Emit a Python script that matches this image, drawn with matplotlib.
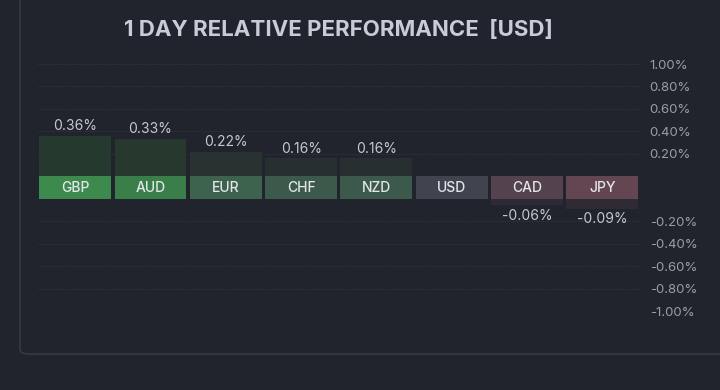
import matplotlib
matplotlib.use('Agg')
import matplotlib.pyplot as plt
from matplotlib.patches import FancyBboxPatch

plt.rcParams['font.family'] = ['Inter', 'DejaVu Sans']

# data
currencies = ['GBP', 'AUD', 'EUR', 'CHF', 'NZD', 'USD', 'CAD', 'JPY']
changes = [0.36, 0.33, 0.22, 0.16, 0.16, 0.0, -0.06, -0.09]
strip_colors = ['#3d8a4f', '#3a7f4a', '#3d634f', '#3c5a4b', '#3c5a4b', '#41434f', '#54434f', '#644552']
bar_colors = ['#26392f', '#27382f', '#283331', '#272f30', '#272f30', '#2a2c35', '#2c2b35', '#302a35']
tick_values = [1.0, 0.8, 0.6, 0.4, 0.2, -0.2, -0.4, -0.6, -0.8, -1.0]

BG = '#21242c'
GAP = 0.2  # height of the currency label strip, in % units


def shift(v):
    # negative side sits below the label strip
    return v if v >= 0 else v - GAP


W, H = 720, 390
fig = plt.figure(figsize=(W / 100, H / 100), dpi=100)
fig.patch.set_facecolor(BG)

# axes placed in pixel coords: x 37.5..640, y 64..311
x0, x1 = 37.5, 640
y_top, y_bot = 64, 311
ax = fig.add_axes([x0 / W, 1 - y_bot / H, (x1 - x0) / W, (y_bot - y_top) / H])
ax.set_facecolor(BG)
ax.set_xlim(-0.5, len(currencies) - 0.5)
ax.set_ylim(shift(-1.0), 1.0)

for s in ax.spines.values():
    s.set_visible(False)

# grid
for t in tick_values:
    ax.axhline(shift(t), color='#31343d', lw=0.8, ls=(0, (1, 1)), zorder=0)

ax.set_xticks([])
ax.yaxis.tick_right()
ax.set_yticks([shift(t) for t in tick_values])
ax.set_yticklabels([f'{t:.2f}%' for t in tick_values])
ax.tick_params(axis='y', length=0, pad=7, labelsize=9.5, labelcolor='#9a9da6')
for lbl in ax.get_yticklabels():
    lbl.set_horizontalalignment('left')

bw = 0.955
xs = list(range(len(currencies)))

# value bars
for x, v, c in zip(xs, changes, bar_colors):
    if v > 0:
        ax.bar(x, v, bottom=0, width=bw, color=c, zorder=2)
        ax.text(x, v + 0.025, f'{v:.2f}%', ha='center', va='bottom',
                color='#c5c8d0', fontsize=10)
    elif v < 0:
        ax.bar(x, v, bottom=-GAP, width=bw, color=c, zorder=2)
        ax.text(x, shift(v) - 0.03, f'{v:.2f}%', ha='center', va='top',
                color='#c5c8d0', fontsize=10)

# currency label strip
for x, name, c in zip(xs, currencies, strip_colors):
    ax.bar(x, -GAP, bottom=0, width=bw, color=c, zorder=3)
    ax.text(x, -GAP / 2, name, ha='center', va='center', color='#e4e6ea',
            fontsize=10, fontweight='medium', zorder=4)

# panel border
panel = FancyBboxPatch((20 / W, 1 - 354 / H), 1.2, 1.2,
                       boxstyle='round,pad=0,rounding_size=0.012',
                       transform=fig.transFigure, facecolor='none',
                       edgecolor='#3a3d47', lw=1.0, zorder=0)
fig.patches.append(panel)

fig.text(338 / W, 1 - 30 / H, '1 DAY RELATIVE PERFORMANCE  [USD]',
         ha='center', va='center', color='#c8ccd6', fontsize=16,
         fontweight='bold')

fig.savefig('out.png', dpi=100, facecolor=BG)
